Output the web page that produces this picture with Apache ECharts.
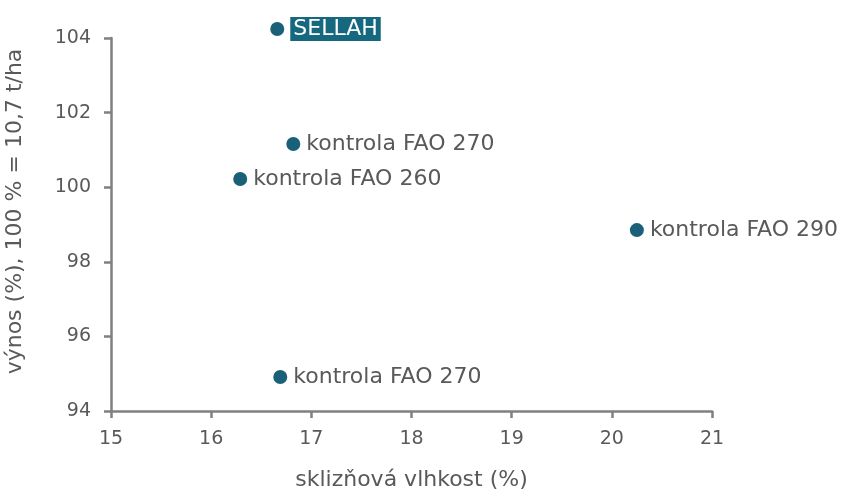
<!DOCTYPE html>
<html>
<head>
<meta charset="utf-8">
<script src="https://cdn.jsdelivr.net/npm/echarts@6/dist/echarts.min.js"></script>
<style>
  html, body { margin: 0; padding: 0; background: #fff; }
  #chart { width: 850px; height: 493px; }
</style>
</head>
<body>
<div id="chart"></div>
<script>
// hybridy a kontroly
var names = ['SELLAH', 'kontrola FAO 270', 'kontrola FAO 260', 'kontrola FAO 290', 'kontrola FAO 270'];
var vlhkost = [16.66, 16.82, 16.29, 20.25, 16.69];
var vynos = [104.24, 101.16, 100.22, 98.85, 94.91];
var xTicks = [15, 16, 17, 18, 19, 20, 21];
var yTicks = [94, 96, 98, 100, 102, 104];

var axisColor = '#808080';
var textColor = '#595959';
var dotColor = '#1b6079';
var font = 'DejaVu Sans';

var data = names.map(function (n, i) {
  var item = { name: n, value: [vlhkost[i], vynos[i]] };
  if (i === 0) {
    item.label = {
      color: '#fff',
      backgroundColor: '#16687e',
      padding: [2, 3, 0, 3]
    };
  }
  return item;
});

var myChart = echarts.init(document.getElementById('chart'));
var option = {
  animation: false,
  grid: { left: 111, right: 138, top: 38, bottom: 82, outerBoundsMode: 'none', containLabel: false },
  xAxis: {
    type: 'value',
    min: xTicks[0],
    max: xTicks[xTicks.length - 1],
    interval: 1,
    name: 'sklizňová vlhkost (%)',
    nameLocation: 'middle',
    nameGap: 58,
    nameTextStyle: { color: textColor, fontSize: 22, fontFamily: font },
    axisLine: { lineStyle: { color: axisColor, width: 2.5 } },
    axisTick: { length: 7, lineStyle: { color: axisColor, width: 2.5 } },
    axisLabel: { color: textColor, fontSize: 19, fontFamily: font, margin: 19 },
    splitLine: { show: false }
  },
  yAxis: {
    type: 'value',
    min: yTicks[0],
    max: yTicks[yTicks.length - 1],
    interval: 2,
    name: 'výnos (%), 100 % = 10,7 t/ha',
    nameLocation: 'middle',
    nameGap: 85,
    nameTextStyle: { color: textColor, fontSize: 22, fontFamily: font, padding: [0, 0, 0, 26] },
    axisLine: { show: true, lineStyle: { color: axisColor, width: 2.5 } },
    axisTick: { show: true, length: 7, lineStyle: { color: axisColor, width: 2.5 } },
    axisLabel: { color: textColor, fontSize: 19, fontFamily: font, margin: 20 },
    splitLine: { show: false }
  },
  series: [{
    type: 'scatter',
    clip: false,
    symbolSize: 14,
    itemStyle: { color: dotColor, opacity: 1 },
    label: {
      show: true,
      position: 'right',
      distance: 6,
      formatter: '{b}',
      color: textColor,
      fontSize: 22,
      fontFamily: font
    },
    data: data
  }]
};
myChart.setOption(option, true);
</script>
</body>
</html>
